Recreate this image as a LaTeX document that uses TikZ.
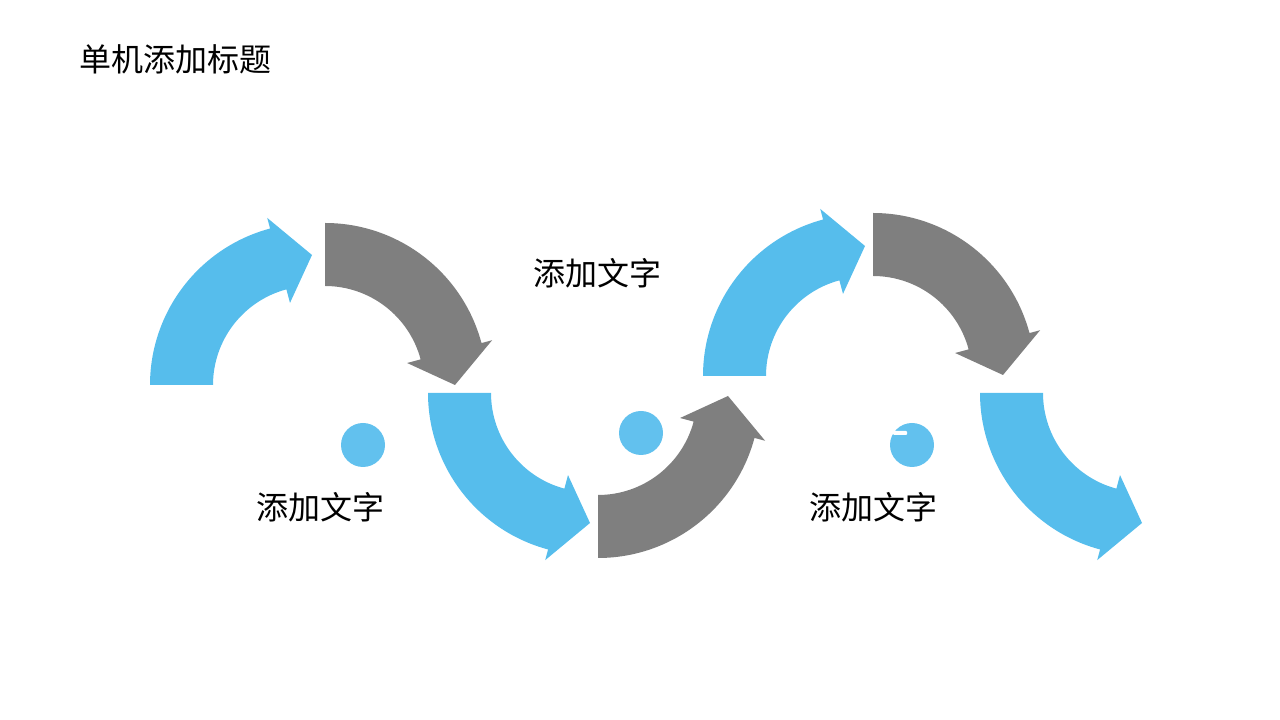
\documentclass[tikz,border=0pt]{standalone}
\usepackage{fontspec}
\setmainfont{Noto Sans CJK SC}
\usetikzlibrary{calc}
\definecolor{arrowblue}{RGB}{86,189,236}
\definecolor{arrowgray}{RGB}{127,127,127}
\definecolor{dotblue}{RGB}{98,193,238}

\begin{document}
\begin{tikzpicture}[x=1pt,y=1pt,
    labeltext/.style={font=\fontsize{32}{37}\selectfont, inner sep=0pt},
    dot/.style={circle, fill=dotblue, minimum size=44pt, inner sep=0pt}]
    \useasboundingbox (0,0) rectangle (1280,720);

    % Title
    \node[labeltext, anchor=west] (title) at (79,661) {单机添加标题};

    % Draw the curved arrows (centre x/centre y/start/head/tip/colour)
    \foreach \cx/\cy/\a/\b/\c/\col in {312/335/180/105/90/arrowblue,
                                      325/335/90/15/0/arrowgray,
                                      590/327/180/255/270/arrowblue,
                                      598/324/270/345/360/arrowgray,
                                      865/344/180/105/90/arrowblue,
                                      873/345/90/15/0/arrowgray,
                                      1142/327/180/255/270/arrowblue} {
        \fill[\col] ($(\cx,\cy)+(\a:162)$) arc[start angle=\a, end angle=\b, radius=162]
            -- ($(\cx,\cy)+(\b:173)$) -- ($(\cx,\cy)+(\c:130)$) -- ($(\cx,\cy)+(\b:85)$)
            -- ($(\cx,\cy)+(\b:99)$) arc[start angle=\b, end angle=\a, radius=99] -- cycle;
    }

    % Small dots
    \node[dot] (dot1) at (363,275) {};
    \node[dot] (dot2) at (641,287) {};
    \node[dot] (dot3) at (912,275) {};
    \fill[white, rounded corners=1pt] (893,285) rectangle (907,289);

    % Labels
    \node[labeltext] (text1) at (597,447) {添加文字};
    \node[labeltext] (text2) at (320,213) {添加文字};
    \node[labeltext] (text3) at (873,213) {添加文字};
\end{tikzpicture}
\end{document}
